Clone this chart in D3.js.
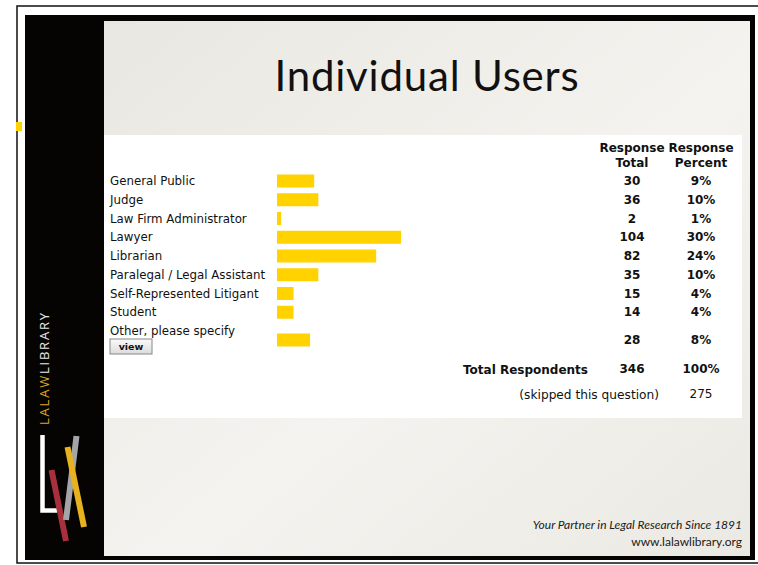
<!DOCTYPE html>
<html>
<head>
<meta charset="utf-8">
<script src="https://cdn.jsdelivr.net/npm/d3@7"></script>
<style>
  body { margin: 0; background: #fff; }
  svg { display: block; }
</style>
</head>
<body>
<div id="chart"></div>
<script>
// survey answers
const categories = ["General Public", "Judge", "Law Firm Administrator", "Lawyer", "Librarian",
  "Paralegal / Legal Assistant", "Self-Represented Litigant", "Student", "Other, please specify"];
const totals = [30, 36, 2, 104, 82, 35, 15, 14, 28];
const percents = [9, 10, 1, 30, 24, 10, 4, 4, 8];
const totalRespondents = 346;
const totalPercent = 100;
const skipped = 275;

const width = 758, height = 565;
const barColor = "#ffd200";
const tableFont = "'DejaVu Sans', Verdana, sans-serif";
const fs = 12;

const svg = d3.select("#chart").append("svg")
  .attr("width", width)
  .attr("height", height);

const defs = svg.append("defs");
const grad = defs.append("linearGradient").attr("id", "slideBg")
  .attr("x1", "0%").attr("y1", "0%").attr("x2", "100%").attr("y2", "100%");
grad.append("stop").attr("offset", "0%").attr("stop-color", "#e9e7e1");
grad.append("stop").attr("offset", "55%").attr("stop-color", "#f4f3ef");
grad.append("stop").attr("offset", "100%").attr("stop-color", "#ebe9e3");

const btnGrad = defs.append("linearGradient").attr("id", "btnBg")
  .attr("x1", "0").attr("y1", "0").attr("x2", "0").attr("y2", "1");
btnGrad.append("stop").attr("offset", "0%").attr("stop-color", "#fafafa");
btnGrad.append("stop").attr("offset", "100%").attr("stop-color", "#dcdcdc");

// outer thin frame of the screenshot
svg.append("rect")
  .attr("x", 17).attr("y", 6).attr("width", 760).attr("height", 557)
  .attr("fill", "none").attr("stroke", "#111").attr("stroke-width", 1.5);
svg.append("rect")
  .attr("x", 16).attr("y", 122).attr("width", 6).attr("height", 9)
  .attr("fill", barColor);

// black slide frame + sidebar
svg.append("rect")
  .attr("x", 25).attr("y", 15).attr("width", 730).attr("height", 545)
  .attr("fill", "#060303");

// slide body
const slide = { x0: 104, y0: 21, x1: 750, y1: 556 };
svg.append("rect")
  .attr("x", slide.x0).attr("y", slide.y0)
  .attr("width", slide.x1 - slide.x0).attr("height", slide.y1 - slide.y0)
  .attr("fill", "url(#slideBg)");

svg.append("text")
  .attr("x", (slide.x0 + slide.x1) / 2).attr("y", 91)
  .attr("text-anchor", "middle")
  .attr("font-family", "Lato, 'Open Sans', sans-serif")
  .attr("font-size", 42)
  .attr("letter-spacing", 0.8)
  .attr("fill", "#111")
  .text("Individual Users");

// pasted survey table panel
const panel = { x0: 104, y0: 135, x1: 742, y1: 418 };
svg.append("rect")
  .attr("x", panel.x0).attr("y", panel.y0)
  .attr("width", panel.x1 - panel.x0).attr("height", panel.y1 - panel.y0)
  .attr("fill", "#fff");

const y = d3.scalePoint().domain(categories).range([181, 331]);
const lastCat = categories[categories.length - 1];
const rowMid = c => c === lastCat ? y(c) + 9 : y(c);

const x = d3.scaleLinear().domain([0, 30]).range([277, 401]);
const colTotal = 632, colPct = 701;

const table = svg.append("g")
  .attr("font-family", tableFont)
  .attr("fill", "#111");

// headers
[["Response", 148], ["Total", 163]].forEach(([t, yy]) => {
  table.append("text").attr("x", colTotal).attr("y", yy).attr("dy", "0.35em")
    .attr("text-anchor", "middle").attr("font-weight", "bold").attr("font-size", fs).text(t);
});
[["Response", 148], ["Percent", 163]].forEach(([t, yy]) => {
  table.append("text").attr("x", colPct).attr("y", yy).attr("dy", "0.35em")
    .attr("text-anchor", "middle").attr("font-weight", "bold").attr("font-size", fs).text(t);
});

const rows = table.selectAll("g.row")
  .data(categories.map((c, i) => ({ c, total: totals[i], pct: percents[i] })))
  .join("g").attr("class", "row");

rows.append("text")
  .attr("x", 110).attr("y", d => y(d.c)).attr("dy", "0.35em")
  .attr("font-size", 11.8)
  .text(d => d.c);

rows.append("rect")
  .attr("x", x(0))
  .attr("y", d => rowMid(d.c) - 6.5)
  .attr("width", d => x(d.pct) - x(0))
  .attr("height", 13)
  .attr("fill", barColor);

rows.append("text")
  .attr("x", colTotal).attr("y", d => rowMid(d.c)).attr("dy", "0.35em")
  .attr("text-anchor", "middle").attr("font-weight", "bold").attr("font-size", fs)
  .text(d => d.total);

rows.append("text")
  .attr("x", colPct).attr("y", d => rowMid(d.c)).attr("dy", "0.35em")
  .attr("text-anchor", "middle").attr("font-weight", "bold").attr("font-size", fs)
  .text(d => d.pct + "%");

// "view" button under the Other row
const btn = table.append("g").attr("transform", `translate(110,${y(lastCat) + 8})`);
btn.append("rect").attr("width", 42).attr("height", 15)
  .attr("fill", "url(#btnBg)").attr("stroke", "#888").attr("stroke-width", 1);
btn.append("text").attr("x", 21).attr("y", 7.5).attr("dy", "0.35em")
  .attr("text-anchor", "middle").attr("font-weight", "bold").attr("font-size", 9.5)
  .text("view");

// totals
table.append("text").attr("x", 588).attr("y", 370).attr("dy", "0.35em")
  .attr("text-anchor", "end").attr("font-weight", "bold").attr("font-size", fs)
  .text("Total Respondents");
table.append("text").attr("x", colTotal).attr("y", 369).attr("dy", "0.35em")
  .attr("text-anchor", "middle").attr("font-weight", "bold").attr("font-size", fs)
  .text(totalRespondents);
table.append("text").attr("x", colPct).attr("y", 369).attr("dy", "0.35em")
  .attr("text-anchor", "middle").attr("font-weight", "bold").attr("font-size", fs)
  .text(totalPercent + "%");
table.append("text").attr("x", 659).attr("y", 395).attr("dy", "0.35em")
  .attr("text-anchor", "end").attr("font-size", 12.2)
  .text("(skipped this question)");
table.append("text").attr("x", colPct).attr("y", 394).attr("dy", "0.35em")
  .attr("text-anchor", "middle").attr("font-size", fs)
  .text(skipped);

// footer
const footer = svg.append("g")
  .attr("font-family", "Lato, 'Open Sans', sans-serif")
  .attr("font-size", 12).attr("fill", "#1a1a1a").attr("text-anchor", "end");
footer.append("text").attr("x", 742).attr("y", 529).attr("font-style", "italic")
  .text("Your Partner in Legal Research Since 1891");
footer.append("text").attr("x", 742).attr("y", 546)
  .text("www.lalawlibrary.org");

// sidebar brand
svg.append("text")
  .attr("transform", "translate(48.5,425) rotate(-90)")
  .attr("font-family", "'Open Sans', 'DejaVu Sans', sans-serif")
  .attr("font-size", 13)
  .attr("textLength", 112).attr("lengthAdjust", "spacing")
  .call(t => {
    t.append("tspan").attr("fill", "#d9a81c").text("LALAW");
    t.append("tspan").attr("fill", "#e8e8e8").text("LIBRARY");
  });

const logo = svg.append("g").attr("stroke-linecap", "butt");
logo.append("path").attr("d", "M42.5,435 V510.5 H57")
  .attr("fill", "none").attr("stroke", "#fff").attr("stroke-width", 4.5);
logo.append("line").attr("x1", 51.5).attr("y1", 470).attr("x2", 66).attr("y2", 541)
  .attr("stroke", "#a8303c").attr("stroke-width", 6);
logo.append("line").attr("x1", 76.5).attr("y1", 436).attr("x2", 66).attr("y2", 520)
  .attr("stroke", "#a3a5a8").attr("stroke-width", 6);
logo.append("line").attr("x1", 67.5).attr("y1", 447).attr("x2", 84).attr("y2", 527)
  .attr("stroke", "#e8b21e").attr("stroke-width", 6);
</script>
</body>
</html>
